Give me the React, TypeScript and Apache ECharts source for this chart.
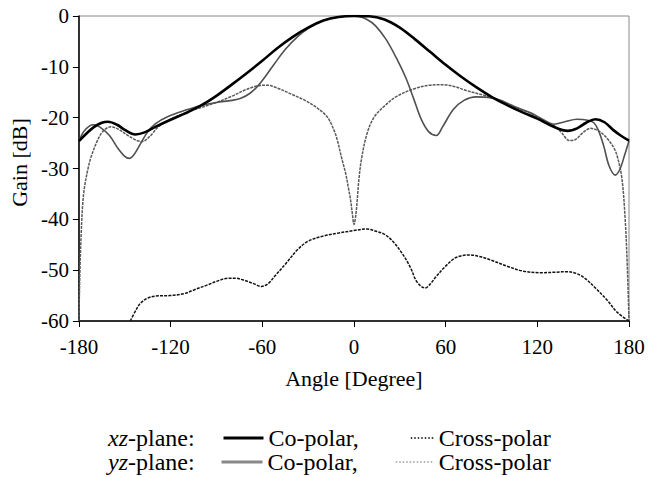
import React, { useEffect, useRef } from "react";
import * as echarts from "echarts";

const xTicks = [-180, -120, -60, 0, 60, 120, 180];
const yTicks = [0, -10, -20, -30, -40, -50, -60];

const xzCo: [number, number][] = [
  [-180, -24.6], [-175, -23.1], [-170, -21.8], [-165, -21], [-161, -20.8], [-155, -21.4], [-150, -22.4],
  [-143, -23.3], [-137, -22.9], [-130, -21.8], [-120, -20.4], [-110, -19.1], [-100, -17.6], [-90, -15.7],
  [-80, -13.5], [-70, -11.2], [-60, -8.8], [-50, -6.3], [-40, -4.1], [-30, -2.3], [-20, -0.9], [-10, -0.2],
  [0, 0], [10, -0.05], [20, -0.7], [30, -2.3], [40, -4.6], [50, -7.1], [60, -9.6],
  [70, -11.9], [80, -14], [90, -15.9], [100, -17.5], [110, -18.9], [120, -20.2], [130, -21.7],
  [140, -22.6], [146, -22.1], [152, -21], [158, -20.3], [164, -20.9], [170, -22.5], [175, -23.6], [180, -24.5],
];

const yzCo: [number, number][] = [
  [-180, -24.6], [-177, -22.8], [-173, -21.6], [-170, -21.4], [-166, -21.9], [-160, -23.5], [-155, -25.8],
  [-150, -27.6], [-147, -28], [-144, -27.3], [-140, -25.3], [-135, -22.8], [-130, -21.2], [-122, -19.8],
  [-110, -18.5], [-100, -17.6], [-90, -17], [-80, -16.6], [-74, -16.2], [-68, -15.2], [-63, -13.8],
  [-58, -11.9], [-52, -9.4], [-45, -6.6], [-37, -4.1], [-29, -2.3], [-20, -0.9], [-11, -0.2], [-3, 0],
  [3, -0.1], [8, -0.6], [14, -1.9], [21, -4.6], [28, -8.4], [34, -12.2], [39, -16.2], [44, -20.3],
  [49, -22.8], [54, -23.5], [58, -21.8], [65, -18.4], [72, -16.6], [80, -15.9], [88, -16], [95, -16.5],
  [105, -17.8], [116, -19.1], [124, -20.4], [131, -21.3], [138, -20.8], [146, -20.3], [153, -20.5],
  [157, -21], [160, -22.5], [163.4, -25.5], [167, -29.5], [171, -31.3], [174, -30.2], [177, -27.5], [180, -24.6],
];

const xzCross: [number, number][] = [
  [-146.4, -60], [-142, -57.5], [-139.7, -56.5], [-135, -55.5], [-130, -55.1], [-120.6, -55], [-111, -54.6],
  [-104, -53.8], [-96.7, -53], [-89, -52.1], [-82.4, -51.6], [-77, -51.6], [-72.8, -51.9], [-66, -52.6],
  [-60.5, -53.2], [-56, -52.6], [-51.3, -51], [-44, -48.5], [-37, -46], [-30, -44.3], [-20.3, -43.3],
  [-10, -42.7], [0, -42.2], [8.4, -41.9], [14, -42.3], [20.3, -43], [26, -44.5], [32.2, -47], [37, -49.5],
  [40.6, -52], [44, -53.2], [46.6, -53.5], [50, -52.7], [53.7, -51.3], [60, -49.2], [65.7, -47.7],
  [70, -47.2], [75.2, -47], [82, -47.3], [89.5, -48], [100, -49.2], [111, -50.2], [123, -50.5],
  [132, -50.4], [139.7, -50.3], [146, -50.7], [151.6, -51.7], [158, -53.5], [166, -56], [172, -58.2], [180, -60],
];

const yzCross: [number, number][] = [
  [-180, -60], [-179.3, -50], [-178.5, -42.8], [-177.5, -37], [-176.3, -33.6], [-174, -30], [-172, -27.7],
  [-167.7, -24.4], [-164, -22.6], [-159, -21.8], [-154, -22.3], [-148, -23.5], [-142, -24.5], [-138.7, -24.7],
  [-134, -23.8], [-128, -21.8], [-122, -20.6], [-110, -19], [-100, -18], [-90, -17], [-80, -15.8],
  [-70, -14.4], [-62, -13.7], [-57, -13.6], [-50, -14.2], [-40, -15.5], [-32, -16.6], [-24, -18.1],
  [-17.4, -19.9], [-13, -22.5], [-10.9, -24.4], [-8, -28], [-5.4, -31], [-3.5, -34], [-2.2, -36.2],
  [-1, -39], [0, -41], [1.3, -39], [2.2, -36], [3.2, -32.3], [5, -28], [8.6, -23.1], [13, -20],
  [19.3, -17.9], [28, -15.8], [40.6, -14.2], [50, -13.6], [58, -13.5], [66, -13.9], [73, -14.6],
  [85, -15.6], [95, -16.5], [105, -17.9], [116, -19.2], [126, -20.8], [131, -21.6], [136, -23],
  [141, -24.5], [145, -24.3], [150, -22.9], [154.8, -22.1], [158, -22.3], [162, -23], [166, -24.2],
  [169.8, -25.8], [172, -27.3], [175.2, -31.6], [177.4, -39.5], [178.9, -49.3], [180, -60],
];

const seriesNames = ["xz Co", "xz Cross", "yz Co", "yz Cross"];
const legendLabels: Record<string, string> = {
  "xz Co": "Co-polar,",
  "xz Cross": "Cross-polar",
  "yz Co": "Co-polar,",
  "yz Cross": "Cross-polar",
};

const FONT = "'Liberation Serif', 'Times New Roman', serif";
const TICK_FS = 21;
const NAME_FS = 22;
const LEG_FS = 24;

export default function App() {
  const ref = useRef<HTMLDivElement>(null);
  useEffect(() => {
    if (!ref.current) return;
    const chart = echarts.init(ref.current, undefined, { renderer: "svg" });
    const legendText = { fontFamily: FONT, fontSize: LEG_FS, color: "#000", padding: [0, 0, 0, 0] };
    const mkLegend = (name: string, left: number, top: number, w: number, lineStyle: any) => ({
      data: [name],
      left,
      top,
      itemWidth: w,
      itemHeight: 12,
      itemGap: 0,
      padding: 0,
      formatter: (n: string) => legendLabels[n],
      textStyle: legendText,
      selectedMode: false,
      itemStyle: { opacity: 0 },
      lineStyle,
    });
    chart.setOption({
      animation: false,
      backgroundColor: "#fff",
      textStyle: { fontFamily: FONT },
      grid: {
        left: 71, right: 31, top: 16, bottom: 156,
        show: true, borderColor: "#888", borderWidth: 1,
      },
      legend: [
        mkLegend("xz Co", 222, 426, 40, { color: "#000", width: 3 }),
        mkLegend("xz Cross", 410, 426, 23, { color: "#000", width: 1.5, type: [1.5, 2] }),
        mkLegend("yz Co", 220, 450, 41, { color: "#888", width: 3 }),
        mkLegend("yz Cross", 395, 450, 38, { color: "#999", width: 1.5, type: [1.5, 2] }),
      ],
      graphic: [
        {
          type: "text", left: 108, top: 426,
          style: {
            text: "{i|xz}-plane:",
            font: `${LEG_FS}px ${FONT}`,
            fill: "#000",
            rich: { i: { fontStyle: "italic", fontFamily: FONT, fontSize: LEG_FS } },
          },
        },
        {
          type: "text", left: 108, top: 450,
          style: {
            text: "{i|yz}-plane:",
            font: `${LEG_FS}px ${FONT}`,
            fill: "#000",
            rich: { i: { fontStyle: "italic", fontFamily: FONT, fontSize: LEG_FS } },
          },
        },
      ],
      xAxis: {
        type: "value",
        min: xTicks[0],
        max: xTicks[xTicks.length - 1],
        interval: 60,
        name: "Angle [Degree]",
        nameLocation: "middle",
        nameGap: 46,
        nameTextStyle: { fontFamily: FONT, fontSize: NAME_FS, color: "#000" },
        axisLine: { onZero: false, lineStyle: { color: "#000", width: 1.5 } },
        axisTick: { show: true, length: 6, lineStyle: { color: "#000" } },
        axisLabel: { fontFamily: FONT, fontSize: TICK_FS, color: "#000", margin: 15 },
        splitLine: { show: false },
      },
      yAxis: {
        type: "value",
        min: yTicks[yTicks.length - 1],
        max: yTicks[0],
        interval: 10,
        name: "Gain [dB]",
        nameLocation: "middle",
        nameGap: 38,
        nameTextStyle: { fontFamily: FONT, fontSize: NAME_FS, color: "#000", padding: [0, 0, 0, 12] },
        axisLine: { onZero: false, lineStyle: { color: "#000", width: 1.5 } },
        axisTick: { show: true, length: 6, lineStyle: { color: "#000" } },
        axisLabel: { fontFamily: FONT, fontSize: TICK_FS, color: "#000", margin: 10 },
        splitLine: { show: false },
      },
      series: [
        {
          name: seriesNames[0], type: "line", data: xzCo, showSymbol: false, symbol: "none",
          smooth: 0.35, z: 5,
          lineStyle: { color: "#000", width: 2.6 }, itemStyle: { color: "#000" },
        },
        {
          name: seriesNames[1], type: "line", data: xzCross, showSymbol: false, symbol: "none",
          smooth: 0.35, z: 4,
          lineStyle: { color: "#111", width: 1.5, type: [3, 1.2] }, itemStyle: { color: "#000" },
        },
        {
          name: seriesNames[2], type: "line", data: yzCo, showSymbol: false, symbol: "none",
          smooth: 0.35, z: 3,
          lineStyle: { color: "#505050", width: 1.6 }, itemStyle: { color: "#888" },
        },
        {
          name: seriesNames[3], type: "line", data: yzCross, showSymbol: false, symbol: "none",
          smooth: 0.35, z: 2,
          lineStyle: { color: "#5a5a5a", width: 1.5, type: [3, 1] }, itemStyle: { color: "#999" },
        },
      ],
    });
    return () => chart.dispose();
  }, []);
  return <div ref={ref} style={{ width: 660, height: 477, position: "absolute", left: 0, top: 0 }} />;
}
